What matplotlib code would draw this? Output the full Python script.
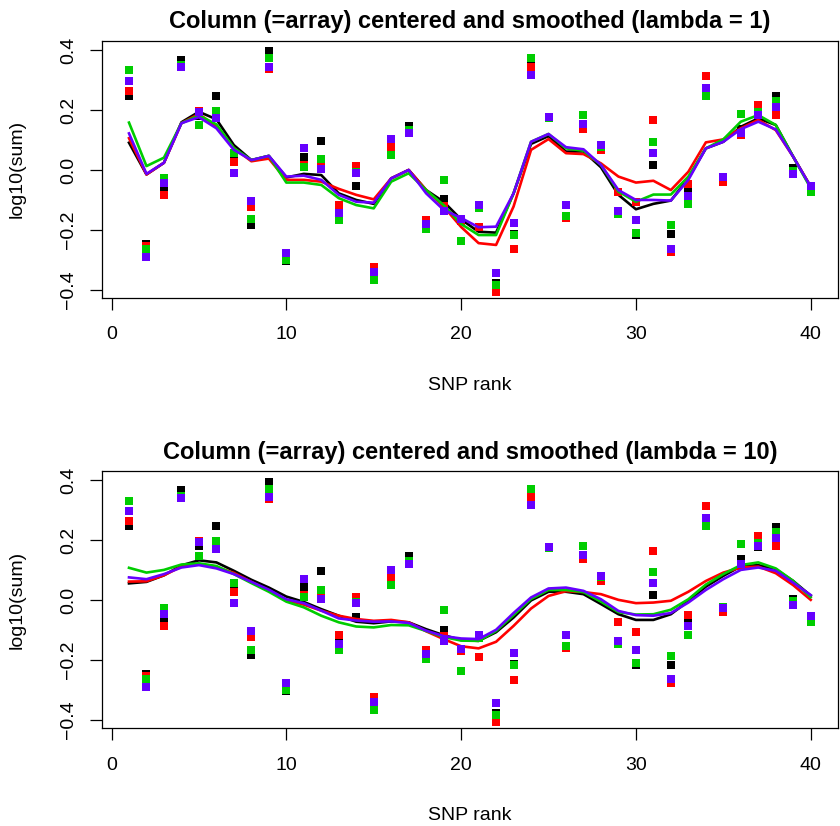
import matplotlib
matplotlib.use('Agg')
import matplotlib.pyplot as plt
import numpy as np

plt.rcParams['font.family'] = ['Liberation Sans', 'DejaVu Sans']

snp = np.arange(1, 41)

# centered log10(sum) per array (one value per SNP)
pts_black = [0.246, -0.248, -0.067, 0.368, 0.18, 0.248, 0.045, -0.182, 0.396, -0.302,
             0.044, 0.098, -0.14, -0.055, -0.345, 0.08, 0.148, -0.18, -0.098, -0.165,
             -0.12, -0.376, -0.213, 0.35, 0.175, -0.16, 0.15, 0.075, -0.145, -0.218,
             0.018, -0.215, -0.072, 0.26, -0.03, 0.137, 0.178, 0.245, 0.005, -0.06]
pts_red = [0.265, -0.252, -0.085, 0.345, 0.198, 0.18, 0.026, -0.124, 0.338, -0.29,
           0.018, 0.02, -0.118, 0.012, -0.325, 0.076, 0.13, -0.168, -0.121, -0.17,
           -0.191, -0.407, -0.265, 0.344, 0.175, -0.161, 0.136, 0.065, -0.074, -0.108,
           0.165, -0.275, -0.048, 0.313, -0.041, 0.115, 0.215, 0.182, -0.01, -0.06]
pts_green = [0.332, -0.262, -0.026, 0.349, 0.149, 0.198, 0.057, -0.165, 0.372, -0.299,
             0.009, 0.035, -0.168, -0.007, -0.368, 0.049, 0.132, -0.198, -0.032, -0.238,
             -0.127, -0.385, -0.217, 0.372, 0.173, -0.154, 0.182, 0.078, -0.148, -0.209,
             0.093, -0.185, -0.115, 0.248, -0.023, 0.188, 0.192, 0.229, -0.004, -0.074]
pts_blue = [0.298, -0.291, -0.045, 0.342, 0.194, 0.172, -0.009, -0.104, 0.345, -0.276,
            0.072, 0.004, -0.145, -0.011, -0.341, 0.102, 0.122, -0.179, -0.138, -0.162,
            -0.118, -0.342, -0.178, 0.318, 0.178, -0.118, 0.152, 0.082, -0.138, -0.168,
            0.058, -0.262, -0.087, 0.273, -0.025, 0.122, 0.182, 0.209, -0.015, -0.052]

# smoothed curves, lambda = 1
sm1_black = [0.091, -0.015, 0.024, 0.159, 0.194, 0.169, 0.083, 0.033, 0.047, -0.025,
             -0.013, -0.017, -0.078, -0.1, -0.113, -0.028, 0.0, -0.067, -0.106, -0.165,
             -0.206, -0.209, -0.078, 0.087, 0.113, 0.061, 0.062, 0.009, -0.083, -0.131,
             -0.113, -0.102, -0.028, 0.072, 0.094, 0.144, 0.172, 0.15, 0.044, -0.056]
sm1_red = [0.106, -0.015, 0.024, 0.156, 0.187, 0.145, 0.073, 0.029, 0.038, -0.033,
           -0.033, -0.039, -0.063, -0.083, -0.098, -0.028, 0.0, -0.067, -0.122, -0.19,
           -0.244, -0.25, -0.122, 0.067, 0.103, 0.056, 0.053, 0.022, -0.022, -0.042,
           -0.036, -0.067, -0.006, 0.092, 0.102, 0.139, 0.167, 0.133, 0.044, -0.056]
sm1_green = [0.158, 0.013, 0.041, 0.156, 0.182, 0.152, 0.073, 0.033, 0.047, -0.042,
             -0.042, -0.05, -0.094, -0.117, -0.128, -0.039, -0.011, -0.067, -0.117, -0.18,
             -0.217, -0.217, -0.078, 0.094, 0.12, 0.072, 0.064, 0.017, -0.072, -0.106,
             -0.082, -0.082, -0.022, 0.072, 0.102, 0.161, 0.183, 0.15, 0.044, -0.061]
sm1_blue = [0.122, -0.013, 0.024, 0.156, 0.176, 0.139, 0.067, 0.033, 0.047, -0.022,
            -0.019, -0.033, -0.083, -0.106, -0.109, -0.028, 0.0, -0.078, -0.133, -0.16,
            -0.191, -0.189, -0.078, 0.094, 0.12, 0.076, 0.069, 0.017, -0.067, -0.1,
            -0.1, -0.102, -0.033, 0.072, 0.094, 0.136, 0.161, 0.135, 0.044, -0.056]

# smoothed curves, lambda = 10
sm10_black = [0.056, 0.061, 0.083, 0.116, 0.133, 0.126, 0.098, 0.068, 0.042, 0.012,
              -0.006, -0.03, -0.052, -0.072, -0.077, -0.071, -0.074, -0.097, -0.117, -0.133,
              -0.136, -0.107, -0.058, -0.001, 0.028, 0.028, 0.02, -0.013, -0.047, -0.066,
              -0.066, -0.047, -0.003, 0.045, 0.081, 0.113, 0.117, 0.103, 0.064, 0.015]
sm10_red = [0.062, 0.063, 0.083, 0.112, 0.12, 0.11, 0.091, 0.061, 0.031, 0.0,
            -0.015, -0.035, -0.052, -0.063, -0.069, -0.066, -0.074, -0.104, -0.13, -0.154,
            -0.161, -0.139, -0.086, -0.028, 0.014, 0.03, 0.027, 0.02, 0.001, -0.01,
            -0.008, -0.002, 0.028, 0.064, 0.092, 0.109, 0.112, 0.09, 0.05, 0.001]
sm10_green = [0.108, 0.092, 0.101, 0.119, 0.123, 0.114, 0.087, 0.057, 0.028, -0.005,
              -0.024, -0.052, -0.074, -0.088, -0.091, -0.083, -0.084, -0.103, -0.123, -0.135,
              -0.136, -0.103, -0.05, 0.004, 0.034, 0.034, 0.027, -0.005, -0.04, -0.048,
              -0.047, -0.032, 0.003, 0.052, 0.087, 0.117, 0.126, 0.106, 0.064, 0.01]
sm10_blue = [0.076, 0.07, 0.087, 0.109, 0.117, 0.106, 0.087, 0.061, 0.035, 0.003,
             -0.01, -0.035, -0.061, -0.068, -0.072, -0.071, -0.076, -0.102, -0.12, -0.128,
             -0.13, -0.099, -0.043, 0.009, 0.039, 0.042, 0.031, 0.003, -0.036, -0.05,
             -0.052, -0.043, -0.008, 0.034, 0.07, 0.101, 0.109, 0.098, 0.058, 0.017]

colors = ['black', '#FF0000', '#00CD00', '#6600FF']
points = [pts_black, pts_red, pts_green, pts_blue]
smooth = {1: [sm1_black, sm1_red, sm1_green, sm1_blue],
          10: [sm10_black, sm10_red, sm10_green, sm10_blue]}

fig = plt.figure(figsize=(8.4, 8.26), dpi=100)
ax_pos = {1: [0.1211, 0.6392, 0.8765, 0.3115],
          10: [0.1211, 0.1186, 0.8765, 0.3111]}

for lam in [1, 10]:
    ax = fig.add_axes(ax_pos[lam])
    for i in range(4):
        ax.plot(snp, points[i], 's', color=colors[i], markersize=6.4,
                markeredgewidth=0, zorder=2 + 2 * i)
        ax.plot(snp, smooth[lam][i], '-', color=colors[i], lw=1.9,
                zorder=3 + 2 * i)
    ax.set_xlim(-0.56, 41.56)
    ax.set_ylim(-0.427, 0.431)
    ax.set_xticks([0, 10, 20, 30, 40])
    ax.set_yticks([-0.4, -0.2, 0.0, 0.2, 0.4])
    ax.set_yticklabels(['\u22120.4', '\u22120.2', '0.0', '0.2', '0.4'],
                       rotation=90, va='center')
    ax.tick_params(length=8.5, width=0.9, labelsize=14, direction='out')
    ax.tick_params(axis='x', pad=12)
    ax.tick_params(axis='y', pad=9)
    for s in ax.spines.values():
        s.set_linewidth(0.9)
    ax.set_title('Column (=array) centered and smoothed (lambda = %d)' % lam,
                 fontsize=17, fontweight='bold', pad=9)
    ax.set_xlabel('SNP rank', fontsize=14, labelpad=24)
    ax.set_ylabel('log10(sum)', fontsize=14, labelpad=25)

fig.savefig('out.png', dpi=100)
